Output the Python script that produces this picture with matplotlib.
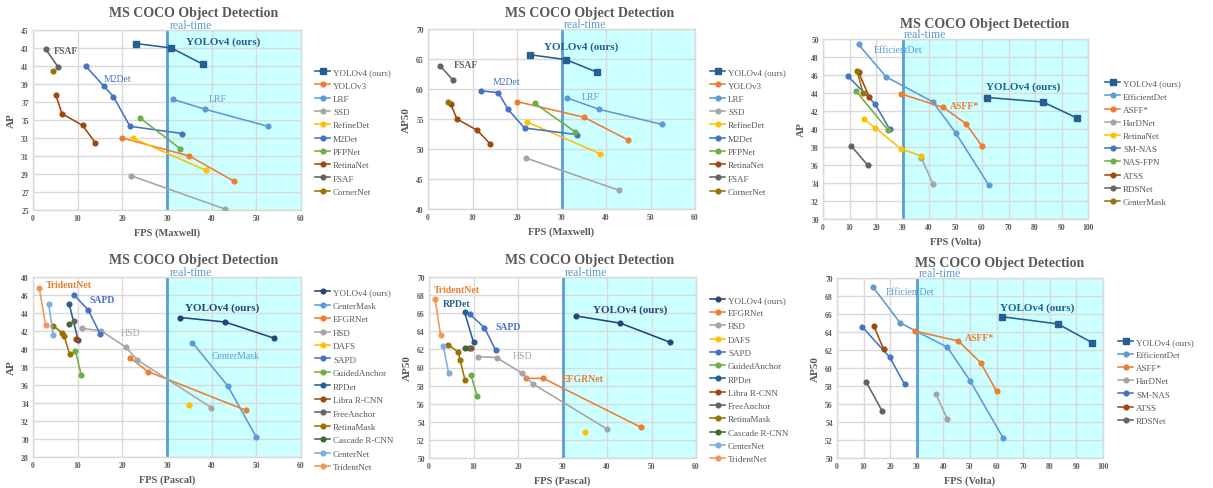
import matplotlib
matplotlib.use('Agg')
import matplotlib.pyplot as plt
from matplotlib.lines import Line2D

plt.rcParams['font.family'] = ['Liberation Serif', 'DejaVu Serif']

W, H = 1213, 489
fig = plt.figure(figsize=(W / 100, H / 100), dpi=100)

# ---------------- data ----------------
# Panel 1: Maxwell, AP
names1 = ['YOLOv4 (ours)', 'YOLOv3', 'LRF', 'SSD', 'RefineDet', 'M2Det', 'PFPNet', 'RetinaNet', 'FSAF', 'CornerNet']
fps1 = [[23, 31, 38], [20, 35, 45], [31.3, 38.5, 52.6], [22, 43], [22.3, 38.7],
        [11.8, 15.8, 18, 21.7, 33.4], [24, 33], [5.1, 6.5, 11.1, 13.9], [2.8, 5.6], [4.4]]
ap1 = [[43.5, 43.0, 41.2], [33.0, 31.0, 28.2], [37.3, 36.2, 34.3], [28.8, 25.1], [33.0, 29.4],
       [41.0, 38.8, 37.6, 34.3, 33.5], [35.2, 31.8], [37.8, 35.7, 34.4, 32.5], [42.9, 40.9], [40.5]]

# Panel 2: Maxwell, AP50
names2 = names1
fps2 = fps1
ap50_2 = [[65.7, 64.9, 62.8], [57.9, 55.3, 51.5], [58.5, 56.6, 54.1], [48.5, 43.1], [54.5, 49.2],
          [59.7, 59.4, 56.6, 53.5, 52.4], [57.6, 52.9], [57.5, 55.0, 53.1, 50.9], [63.8, 61.5], [57.8]]

# Panel 3: Volta, AP
names3 = ['YOLOv4 (ours)', 'EfficientDet', 'ASFF*', 'HarDNet', 'RetinaNet', 'SM-NAS', 'NAS-FPN', 'ATSS', 'RDSNet', 'CenterMask']
fps3 = [[62, 83, 96], [13.4, 23.8, 41.5, 50, 62.5], [29.4, 45.4, 53.9, 60], [37.1, 41.5],
        [15.4, 19.8, 29.4, 37], [9.3, 19.6, 25.1], [12.5, 24.5], [13.4, 17.4], [10.7, 16.8], [12.8, 15.1]]
ap3 = [[43.5, 43.0, 41.2], [49.4, 45.8, 43.0, 39.6, 33.8], [43.9, 42.4, 40.6, 38.1], [36.8, 33.9],
       [41.1, 40.1, 37.8, 37.0], [45.9, 42.8, 40.0], [44.2, 39.9], [46.3, 43.6], [38.1, 36.0], [46.5, 44.0]]

# Panel 4: Pascal, AP
names4 = ['YOLOv4 (ours)', 'CenterMask', 'EFGRNet', 'HSD', 'DAFS', 'SAPD', 'GuidedAnchor', 'RPDet',
          'Libra R-CNN', 'FreeAnchor', 'RetinaMask', 'Cascade R-CNN', 'CenterNet', 'TridentNet']
fps4 = [[33, 43, 54], [35.7, 43.6, 50], [21.8, 25.7, 47.6], [11, 15.3, 20.8, 23.3, 39.9], [35],
        [9.2, 12.4, 15], [9.5, 10.8], [8.1, 10.1], [9.7], [9.1], [4.5, 6.5, 7.0, 8.2], [8.1],
        [3.5, 4.5], [1.4, 2.8]]
ap4 = [[43.5, 43.0, 41.2], [40.7, 35.9, 30.2], [39.0, 37.5, 33.2], [42.3, 42.0, 40.2, 38.8, 33.5], [33.8],
       [46.0, 44.3, 41.7], [39.8, 37.1], [45.0, 41.0], [41.1], [43.1], [42.6, 41.8, 41.4, 39.4], [42.8],
       [45.0, 41.6], [46.8, 42.7]]

# Panel 5: Pascal, AP50
names5 = ['YOLOv4 (ours)', 'EFGRNet', 'HSD', 'DAFS', 'SAPD', 'GuidedAnchor', 'RPDet',
          'Libra R-CNN', 'FreeAnchor', 'RetinaMask', 'Cascade R-CNN', 'CenterNet', 'TridentNet']
fps5 = [[33, 43, 54.1], [21.75, 25.7, 47.6], [11, 15.2, 20.8, 23.3, 40], [35], [9.15, 12.45, 15],
        [9.4, 10.8], [8.0, 10.0], [9.5], [9.1], [4.35, 6.6, 7.0, 8.1], [8.0], [3.2, 4.4], [1.35, 2.6]]
ap50_5 = [[65.7, 64.9, 62.8], [58.8, 58.8, 53.4], [61.2, 61.1, 59.4, 58.2, 53.2], [52.9], [65.9, 64.4, 61.9],
          [59.2, 56.9], [66.1, 62.8], [62.1], [62.2], [62.5, 61.7, 60.8, 58.6], [62.1], [62.4, 59.4], [67.6, 63.6]]

# Panel 6: Volta, AP50
names6 = ['YOLOv4 (ours)', 'EfficientDet', 'ASFF*', 'HarDNet', 'SM-NAS', 'ATSS', 'RDSNet']
fps6 = [[62, 83, 96], [13.5, 23.8, 41.5, 50, 62.5], [29.3, 45.6, 54, 60], [37.2, 41.5],
        [9.4, 19.8, 25.4], [13.8, 17.5], [10.9, 17]]
ap50_6 = [[65.7, 64.9, 62.8], [69.0, 65.0, 62.3, 58.6, 52.2], [64.1, 63.0, 60.6, 57.4], [57.1, 54.3],
          [64.6, 61.2, 58.2], [64.7, 62.1], [58.5, 55.2]]

# ---------------- styles ----------------
PAL = {
    'blue': '#4472C4', 'orange': '#ED7D31', 'gray': '#A5A5A5', 'gold': '#FFC000',
    'lblue': '#5B9BD5', 'green': '#70AD47', 'navy': '#264478', 'brown': '#9E480E',
    'dgray': '#636363', 'olive': '#997300', 'steel': '#255E91', 'dgreen': '#43682B',
    'sky': '#7CAFDD', 'peach': '#F1975A',
}
colors1 = ['steel', 'orange', 'lblue', 'gray', 'gold', 'blue', 'green', 'brown', 'dgray', 'olive']
colors3 = ['steel', 'lblue', 'orange', 'gray', 'gold', 'blue', 'green', 'brown', 'dgray', 'olive']
colors4 = ['navy', 'lblue', 'orange', 'gray', 'gold', 'blue', 'green', 'steel', 'brown', 'dgray',
           'olive', 'dgreen', 'sky', 'peach']
colors5 = ['navy', 'orange', 'gray', 'gold', 'blue', 'green', 'steel', 'brown', 'dgray',
           'olive', 'dgreen', 'sky', 'peach']
colors6 = ['steel', 'lblue', 'orange', 'gray', 'blue', 'brown', 'dgray']

TXT = '#595959'
GRID = '#D9D9D9'


def px_axes(l, t, r, b):
    return fig.add_axes([l / W, 1 - b / H, (r - l) / W, (b - t) / H])


def panel(box, names, xs, ys, cols, xmax, xstep, ylim, ystep, xlabel, ylabel,
          yolo_square, leg_xy, leg_sp, title_xy, notes):
    ax = px_axes(*box)
    ax.set_xlim(0, xmax)
    ax.set_ylim(*ylim)
    ax.axvspan(30, xmax, color='#CCFFFF', zorder=0, lw=0)
    ax.set_xticks(range(0, xmax + 1, xstep))
    yt = []
    v = ylim[0]
    while v <= ylim[1] + 1e-9:
        yt.append(v)
        v += ystep
    ax.set_yticks(yt)
    ax.grid(True, color=GRID, lw=1.0, zorder=1)
    ax.set_axisbelow(True)
    for s in ax.spines.values():
        s.set_color(GRID)
        s.set_linewidth(1.0)
    ax.tick_params(length=0, labelsize=5.5, colors=TXT, pad=3)
    for lab in ax.get_xticklabels() + ax.get_yticklabels():
        lab.set_fontweight('bold')
    ax.axvline(30, color='#5B9BD5', lw=2.0, zorder=2)
    handles = []
    for i, (n, x, y, c) in enumerate(zip(names, xs, ys, cols)):
        m = 's' if (i == 0 and yolo_square) else 'o'
        ms = 3.7 if m == 's' else 3.4
        ax.plot(x, y, color=PAL[c], lw=1.15, marker=m, ms=ms, zorder=3 + i * 0.01)
        handles.append(Line2D([], [], color=PAL[c], lw=1.15, marker=m, ms=ms))
    ax.set_xlabel(xlabel, fontsize=7.5, fontweight='bold', color=TXT, labelpad=4)
    ax.set_ylabel(ylabel, fontsize=8, fontweight='bold', color=TXT, labelpad=4)
    fig.text(title_xy[0] / W, 1 - title_xy[1] / H, 'MS COCO Object Detection', fontsize=10,
             fontweight='bold', color=TXT, ha='center', va='center')
    ax.annotate('real-time', xy=(30.6, ylim[1]), xytext=(0, 1.6), textcoords='offset points',
                fontsize=8.5, color='#5B9BD5', ha='left', va='baseline')
    for (s, x, y, c, bold, fs) in notes:
        ax.text(x, y, s, color=PAL[c], fontsize=fs,
                fontweight='bold' if bold else 'normal', ha='left', va='center', zorder=5)
    ax.legend(handles, names, loc='upper left', bbox_to_anchor=(leg_xy[0] / W, 1 - leg_xy[1] / H),
              bbox_transform=fig.transFigure, frameon=False, fontsize=6.5, labelcolor=TXT,
              handlelength=1.7, handletextpad=0.3, labelspacing=leg_sp, borderpad=0, borderaxespad=0)
    return ax


YS = 7.9
panel((33, 31, 301, 211), names1, fps1, ap1, colors1, 60, 10, (25, 45), 2, 'FPS (Maxwell)', 'AP', True,
      (315, 69), 0.55, (194, 13.5),
      [('FSAF', 4.6, 42.7, 'dgray', True, 7), ('M2Det', 15.8, 39.6, 'blue', False, 7),
       ('LRF', 39.3, 37.4, 'lblue', False, 7), ('YOLOv4 (ours)', 34.2, 43.8, 'steel', True, YS)])

panel((428, 30, 695, 210), names2, fps2, ap50_2, colors1, 60, 10, (40, 70), 5, 'FPS (Maxwell)', 'AP50', True,
      (710, 69), 0.55, (590, 13.5),
      [('FSAF', 5.9, 64.0, 'dgray', True, 7), ('M2Det', 14.5, 61.3, 'blue', False, 7),
       ('LRF', 34.5, 58.8, 'lblue', False, 7), ('YOLOv4 (ours)', 26.0, 67.2, 'steel', True, YS)])

panel((823, 40, 1088, 220), names3, fps3, ap3, colors3, 100, 10, (30, 50), 2, 'FPS (Volta)', 'AP', True,
      (1105, 80), 0.54, (985, 24.5),
      [('EfficientDet', 19.1, 48.8, 'lblue', False, 7), ('ASFF*', 47.9, 42.6, 'orange', True, 7),
       ('YOLOv4 (ours)', 61.5, 44.8, 'steel', True, YS)])

panel((33, 278, 301, 458), names4, fps4, ap4, colors4, 60, 10, (28, 48), 2, 'FPS (Pascal)', 'AP', False,
      (315, 289), 0.57, (194, 260.5),
      [('TridentNet', 2.8, 47.2, 'orange', True, 7), ('SAPD', 12.7, 45.5, 'blue', True, 7),
       ('HSD', 19.6, 41.8, 'gray', False, 7), ('CenterMask', 39.9, 39.3, 'lblue', False, 7),
       ('YOLOv4 (ours)', 34.0, 44.7, 'navy', True, YS)])

panel((429, 278, 696, 459), names5, fps5, ap50_5, colors5, 60, 10, (50, 70), 2, 'FPS (Pascal)', 'AP50', False,
      (710, 296.5), 0.55, (590, 260.5),
      [('TridentNet', 1.0, 68.6, 'orange', True, 7), ('RPDet', 3.0, 67.1, 'steel', True, 7),
       ('SAPD', 14.85, 64.5, 'blue', True, 7), ('HSD', 18.8, 61.3, 'gray', False, 7),
       ('EFGRNet', 29.85, 58.8, 'orange', True, 7), ('YOLOv4 (ours)', 36.8, 66.4, 'navy', True, YS)])

panel((837, 279, 1103, 459), names6, fps6, ap50_6, colors6, 100, 10, (50, 70), 2, 'FPS (Volta)', 'AP50', True,
      (1118, 338.5), 0.54, (1000, 263),
      [('EfficientDet', 18.2, 68.5, 'lblue', False, 7), ('ASFF*', 48.0, 63.4, 'orange', True, 7),
       ('YOLOv4 (ours)', 61.4, 66.8, 'steel', True, YS)])

fig.savefig('out.png', dpi=100, facecolor='white')
